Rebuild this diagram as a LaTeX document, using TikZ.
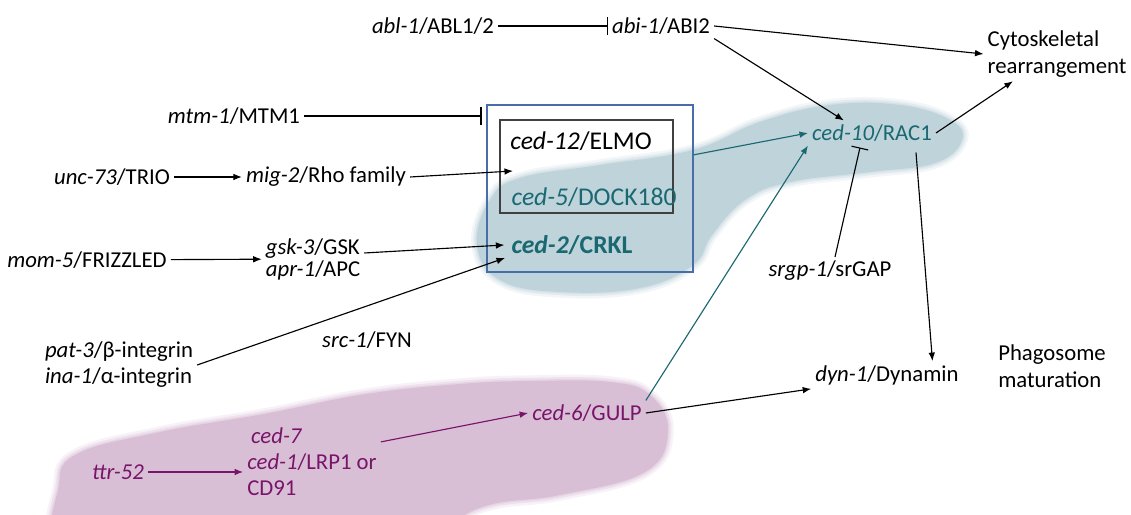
\documentclass[tikz,border=0pt]{standalone}
\usepackage{fontspec}
\setmainfont{Carlito}
\usepackage{tikz}
\usetikzlibrary{positioning, calc, arrows.meta, fit}
\definecolor{cedTeal}{RGB}{26, 104, 114}
\definecolor{blobTeal}{RGB}{191, 211, 218}
\definecolor{cedPurple}{RGB}{120, 20, 105}
\definecolor{blobPurple}{RGB}{217, 191, 214}
\definecolor{boxBlue}{RGB}{72, 110, 170}

\begin{document}
\begin{tikzpicture}[
    x=0.528pt, y=-0.528pt,
    gene/.style={inner sep=2pt, align=left, font=\fontsize{12}{14}\selectfont},
    big/.style={inner sep=2pt, align=left, font=\fontsize{13.5}{16}\selectfont},
    act/.style={-{Latex[length=4.5pt,width=3.5pt]}, line width=0.6pt},
    inh/.style={-{Bar[width=9pt]}, line width=0.6pt},
  ]
    \useasboundingbox (0,0) rectangle (1131,515);

    % shaded groups
    \begin{scope}
      \clip (0,0) rectangle (1131,515);
      \path[save path=\tealBlob] plot[smooth cycle, tension=0.7] coordinates {
        (477,245) (490,200) (520,178) (600,165) (693,150) (760,122) (830,105)
        (900,105) (950,120) (962,140) (935,163) (870,172) (790,182) (745,200)
        (712,235) (693,265) (640,288) (560,292) (500,280)};
      \path[save path=\purpleBlob] plot[smooth cycle, tension=0.7] coordinates {
        (58,490) (75,455) (160,432) (264,414) (366,394) (460,384) (530,381)
        (610,382) (650,395) (668,431) (645,472) (560,495) (489,505) (430,530)
        (300,570) (100,570) (55,540)};
      \foreach \w/\o in {6pt/0.2, 3.5pt/0.3, 1.5pt/0.4} {
        \draw[blobTeal, line width=\w, opacity=\o, use path=\tealBlob];
        \draw[blobPurple, line width=\w, opacity=\o, use path=\purpleBlob];
      }
      \fill[blobTeal, use path=\tealBlob];
      \fill[blobPurple, use path=\purpleBlob];
    \end{scope}

    % boxes
    \node[draw=boxBlue, line width=0.6pt, inner sep=0pt, fit={(487,105) (693,272)}] (outer) {};
    \node[draw=black!75, line width=0.6pt, inner sep=0pt, fit={(500,120) (673,213)}] (inner) {};

    % genes
    \node[gene] (abl) at (433,26) {\textit{abl-1}/ABL1/2};
    \node[gene] (abi) at (661,26) {\textit{abi-1}/ABI2};
    \node[gene] (cyto) at (1057,54) {Cytoskeletal\\rearrangement};
    \node[gene] (mtm) at (234,116) {\textit{mtm-1}/MTM1};
    \node[big] (elmo) at (581,141) {\textit{ced-12}/ELMO};
    \node[big, cedTeal] (dock) at (594,197) {\textit{ced-5}/DOCK180};
    \node[big, cedTeal, font=\fontsize{13.5}{16}\selectfont\bfseries] (crkl) at (572,245) {\textit{ced-2}/CRKL};
    \node[gene] (unc) at (112,177) {\textit{unc-73}/TRIO};
    \node[gene] (mig) at (326,177) {\textit{mig-2}/Rho family};
    \node[gene] (mom) at (87,260) {\textit{mom-5}/FRIZZLED};
    \node[gene, font=\fontsize{12}{11.6}\selectfont] (gsk) at (313,259) {\textit{gsk-3}/GSK\\\textit{apr-1}/APC};
    \node[gene, font=\fontsize{12}{13.7}\selectfont] (pat) at (119,365) {\textit{pat-3}/β-integrin\\\textit{ina-1}/α-integrin};
    \node[gene] (src) at (367,340) {\textit{src-1}/FYN};
    \node[gene, cedTeal] (rac) at (872,133) {\textit{ced-10}/RAC1};
    \node[gene] (srgp) at (830,271) {\textit{srgp-1}/srGAP};
    \node[gene] (dyn) at (887,375) {\textit{dyn-1}/Dynamin};
    \node[gene] (phago) at (1052,366) {Phagosome\\maturation};
    \node[gene, cedPurple] (gulp) at (587,413) {\textit{ced-6}/GULP};
    \node[gene, cedPurple, font=\fontsize{12}{13.7}\selectfont] (ced7) at (312,462) {\,\textit{ced-7}\\\textit{ced-1}/LRP1 or\\CD91};
    \node[gene, cedPurple] (ttr) at (118,472) {\textit{ttr-52}};

    \coordinate (migEnd) at (513,171);
    \coordinate (patEnd) at (505,258);

    % connectors
    \draw[inh] (abl) -- (abi);
    \draw[act] (abi.east) -- (cyto.west);
    \draw[act] (abi.south east) -- ($(rac.north west)!0.28!(rac.north east)$);
    \draw[inh, shorten >=2.6pt] (mtm) -- (mtm -| outer.west);
    \draw[act] (unc) -- (mig);
    \draw[act] (mig.east) -- (migEnd);
    \draw[act] (mom) -- (gsk);
    \draw[act] ($(gsk.east)+(0,-6)$) -- ($(crkl.west)+(-3,0)$);
    \draw[act] (pat.east) -- (patEnd);
    \draw[act, cedTeal] ($(outer.north east)!0.3!(outer.south east)$) -- (rac.west);
    \draw[act, cedTeal] (gulp.north east) -- (rac.south west);
    \draw[inh] ($(srgp.north)+(5,0)$) -- ($(rac.south)+(-12,2)$);
    \draw[act] (rac.east) -- ($(cyto.south west)!0.2!(cyto.south east)$);
    \draw[act] ($(rac.south east)+(-20,7)$) -- ($(dyn.north west)!0.8!(dyn.north east)$);
    \draw[act] (gulp.east) -- (dyn.south west);
    \draw[act, cedPurple] ($(ced7.north east)+(0,18)$) -- (gulp.west);
    \draw[act, cedPurple] (ttr) -- (ttr -| ced7.west);
\end{tikzpicture}
\end{document}
